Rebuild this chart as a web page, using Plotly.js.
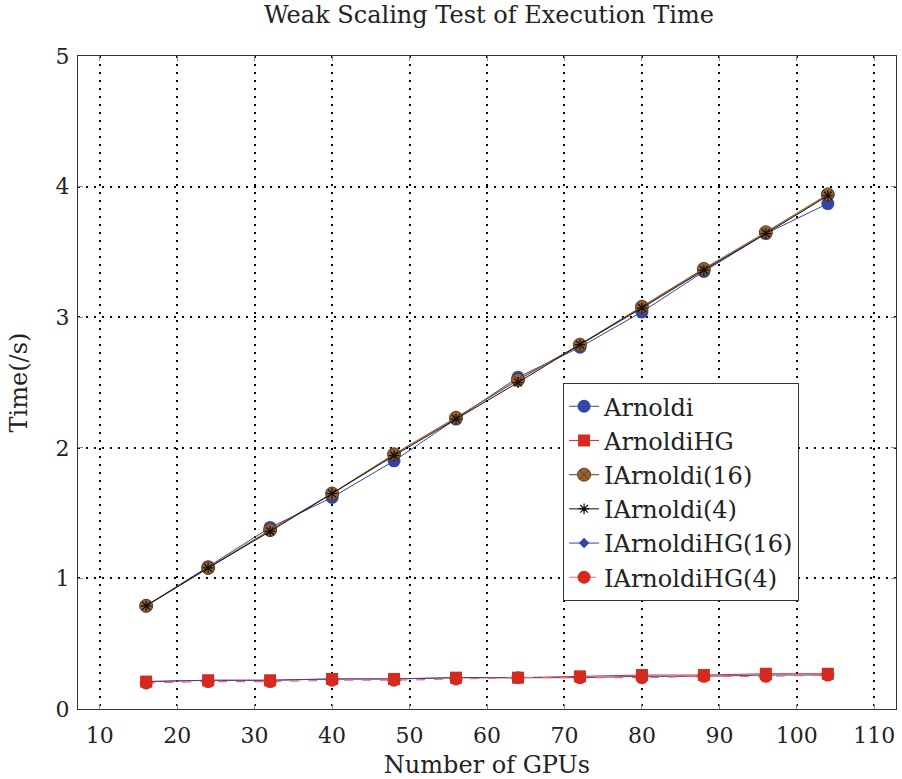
<!DOCTYPE html>
<html>
<head>
<meta charset="utf-8">
<script src="https://cdn.plot.ly/plotly-3.0.1.min.js"></script>
<style>html,body{margin:0;padding:0;background:#fff;}#chart{width:902px;height:779px;}</style>
</head>
<body>
<div id="chart"></div>
<script>
const gpus = [16, 24, 32, 40, 48, 56, 64, 72, 80, 88, 96, 104];
const arnoldi = [0.79, 1.09, 1.39, 1.62, 1.90, 2.22, 2.54, 2.77, 3.04, 3.35, 3.64, 3.87];
const arnoldiHG = [0.21, 0.22, 0.22, 0.23, 0.23, 0.24, 0.24, 0.25, 0.26, 0.26, 0.27, 0.27];
const iarnoldi16 = [0.79, 1.08, 1.37, 1.65, 1.95, 2.23, 2.52, 2.79, 3.08, 3.37, 3.65, 3.94];
const iarnoldi4 = [0.79, 1.08, 1.36, 1.65, 1.94, 2.22, 2.50, 2.79, 3.07, 3.36, 3.64, 3.93];
const iarnoldiHG16 = [0.21, 0.22, 0.22, 0.23, 0.23, 0.24, 0.24, 0.24, 0.25, 0.25, 0.26, 0.26];
const iarnoldiHG4 = [0.20, 0.21, 0.21, 0.22, 0.22, 0.23, 0.24, 0.24, 0.24, 0.25, 0.25, 0.26];
const xTicks = [10, 20, 30, 40, 50, 60, 70, 80, 90, 100, 110];
const yTicks = [0, 1, 2, 3, 4, 5];

const FONT = "'DejaVu Serif', 'Liberation Serif', serif";
const traces = [
  {name: 'Arnoldi', x: gpus, y: arnoldi, mode: 'lines+markers',
   line: {color: '#3344aa', width: 1}, marker: {symbol: 'circle', size: 13, color: '#3344aa'}},
  {name: 'ArnoldiHG', x: gpus, y: arnoldiHG, mode: 'lines+markers',
   line: {color: '#d42a20', width: 1}, marker: {symbol: 'square', size: 12, color: '#d42a20'}},
  {name: 'IArnoldi(16)', x: gpus, y: iarnoldi16, mode: 'lines+markers',
   line: {color: '#8c5a2c', width: 1.2}, marker: {symbol: 'circle-x', size: 13, color: '#9a6233', line: {color: '#5a3a1a', width: 1}}},
  {name: 'IArnoldi(4)', x: gpus, y: iarnoldi4, mode: 'lines+markers',
   line: {color: '#111111', width: 1}, marker: {symbol: 'asterisk-open', size: 9, color: '#111111', line: {color: '#111111', width: 1.2}}},
  {name: 'IArnoldiHG(16)', x: gpus, y: iarnoldiHG16, mode: 'lines+markers',
   line: {color: '#3344aa', width: 1}, marker: {symbol: 'diamond', size: 8, color: '#3344aa'}},
  {name: 'IArnoldiHG(4)', x: gpus, y: iarnoldiHG4, mode: 'lines+markers',
   line: {color: '#e86a6a', width: 1.2, dash: 'dash'}, marker: {symbol: 'circle', size: 13, color: '#d42a20'}}
];

const layout = {
  width: 902, height: 779,
  margin: {l: 78, r: 6, t: 56, b: 70},
  paper_bgcolor: '#fff', plot_bgcolor: '#fff',
  font: {family: FONT, size: 22, color: '#222'},
  title: {text: 'Weak Scaling Test of Execution Time', x: 0.542, xanchor: 'center', y: 0.992, yanchor: 'top', font: {family: FONT, size: 24, color: '#222'}},
  xaxis: {
    range: [7.2, 112.8], tickvals: xTicks, ticktext: xTicks.map(String),
    showgrid: true, gridcolor: '#000', griddash: '2px,6px', gridwidth: 2,
    zeroline: false, showline: true, linecolor: '#333', linewidth: 1, mirror: 'ticks',
    ticks: 'inside', ticklen: 5, tickcolor: '#888', ticklabelstandoff: 7,
    tickfont: {family: FONT, size: 22, color: '#222'},
    title: {text: 'Number of GPUs', font: {family: FONT, size: 24, color: '#222'}, standoff: 9}
  },
  yaxis: {
    range: [0, 5], tickvals: yTicks, ticktext: yTicks.map(String),
    showgrid: true, gridcolor: '#000', griddash: '2px,6px', gridwidth: 2,
    zeroline: false, showline: true, linecolor: '#333', linewidth: 1, mirror: 'ticks',
    ticks: 'inside', ticklen: 5, tickcolor: '#888', ticklabelstandoff: 3,
    tickfont: {family: FONT, size: 22, color: '#222'},
    title: {text: 'Time(/s)', font: {family: FONT, size: 24, color: '#222'}, standoff: 21}
  },
  showlegend: true,
  legend: {
    x: 0.593, y: 0.499, xanchor: 'left', yanchor: 'top',
    bgcolor: '#fff', bordercolor: '#333', borderwidth: 1,
    font: {family: FONT, size: 24, color: '#222'},
    tracegroupgap: 0
  }
};

Plotly.newPlot('chart', traces, layout, {displayModeBar: false, staticPlot: true});
</script>
</body>
</html>
